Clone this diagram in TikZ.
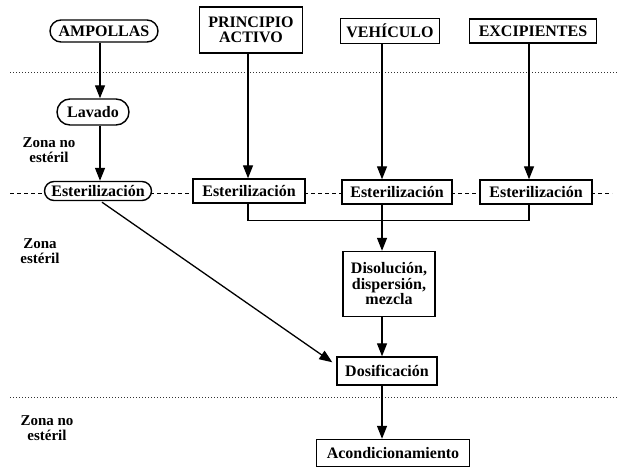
\documentclass[tikz,border=0pt]{standalone}
\usepackage{fontspec}
\setmainfont{Liberation Serif}
\usetikzlibrary{arrows.meta,shapes.misc}
\begin{document}
\begin{tikzpicture}[x=1pt,y=-1pt,
  every node/.style={font=\fontsize{16}{15.5}\selectfont\bfseries, inner sep=1pt},
  boxn/.style={draw, line width=1.4pt, fill=white, rectangle, align=center},
  stad/.style={draw, line width=1.4pt, fill=white, rounded rectangle},
  zona/.style={align=center, font=\fontsize{15}{15}\selectfont\bfseries},
  arr/.style={line width=1.3pt, -{Triangle[length=13pt,width=10pt]}},
  ln/.style={line width=1.3pt},
  zline/.style={line width=0.9pt, dash pattern=on 1pt off 2pt, black!80},
  mline/.style={line width=0.9pt, dash pattern=on 4pt off 3pt}]
\useasboundingbox (0,0) rectangle (617,468);
\fill[white] (0,0) rectangle (617,468);
% zone lines
\draw[zline] (10,72) -- (617,72);
\draw[zline] (10,397) -- (617,397);
\draw[mline] (10,193) -- (612,193);
% nodes
\node[stad, minimum width=110pt, minimum height=22pt] (amp) at (104,31) {AMPOLLAS};
\node[boxn, minimum width=103pt, minimum height=46pt] (pa) at (251,30) {PRINCIPIO\\ACTIVO};
\node[boxn, minimum width=99pt, minimum height=25pt] (veh) at (390,31) {VEHÍCULO};
\node[boxn, minimum width=127pt, minimum height=24pt] (exc) at (533,31) {EXCIPIENTES};
\node[stad, minimum width=74pt, minimum height=26pt] (lav) at (93,112) {Lavado};
\node[stad, minimum width=109pt, minimum height=19pt] (e0) at (98,191) {Esterilización};
\node[boxn, minimum width=112pt, minimum height=24pt] (e1) at (249,191) {Esterilización};
\node[boxn, minimum width=110pt, minimum height=24pt] (e2) at (397,192) {Esterilización};
\node[boxn, minimum width=112pt, minimum height=24pt] (e3) at (536,192) {Esterilización};
\node[boxn, minimum width=92pt, minimum height=65pt] (dis) at (389,284) {Disolución,\\dispersión,\\mezcla};
\node[boxn, minimum width=100pt, minimum height=28pt] (dos) at (387,371) {Dosificación};
\node[boxn, minimum width=153pt, minimum height=27pt] (aco) at (393,453) {Acondicionamiento};
\node[zona] (z1) at (49,150) {Zona no\\estéril};
\node[zona] (z2) at (40,251) {Zona\\estéril};
\node[zona] (z3) at (47,428) {Zona no\\estéril};
% connectors
\coordinate (a1) at ([xshift=-4pt]amp.south);
\draw[arr] (a1) -- (a1 |- lav.north);
\coordinate (a2) at ([xshift=7pt]lav.south);
\draw[arr] (a2) -- (a2 |- e0.north);
\coordinate (p1) at ([xshift=-3pt]pa.south);
\draw[arr] (p1) -- (p1 |- e1.north);
\coordinate (v1) at ([xshift=-8pt]veh.south);
\draw[arr] (v1) -- (v1 |- e2.north);
\coordinate (x1) at ([xshift=-4pt]exc.south);
\draw[arr] (x1) -- (x1 |- e3.north);
\coordinate (b1) at ([xshift=-1pt]e1.south);
\coordinate (b3) at ([xshift=-7pt]e3.south);
\coordinate (jn) at ([yshift=-17pt]b1);
\draw[ln] (b1) -- (jn) -- (jn -| b3) -- (b3);
\coordinate (b2) at ([xshift=-15pt]e2.south);
\draw[arr] (b2) -- (b2 |- dis.north);
\coordinate (d1) at ([xshift=-7pt]dis.south);
\draw[arr] (d1) -- (d1 |- dos.north);
\coordinate (d2) at ([xshift=-5pt]dos.south);
\draw[arr] (d2) -- (d2 |- aco.north);
\draw[arr] ([xshift=4pt,yshift=-1pt]e0.south) -- ([xshift=-4pt,yshift=-6pt]dos.north west);
\end{tikzpicture}
\end{document}
